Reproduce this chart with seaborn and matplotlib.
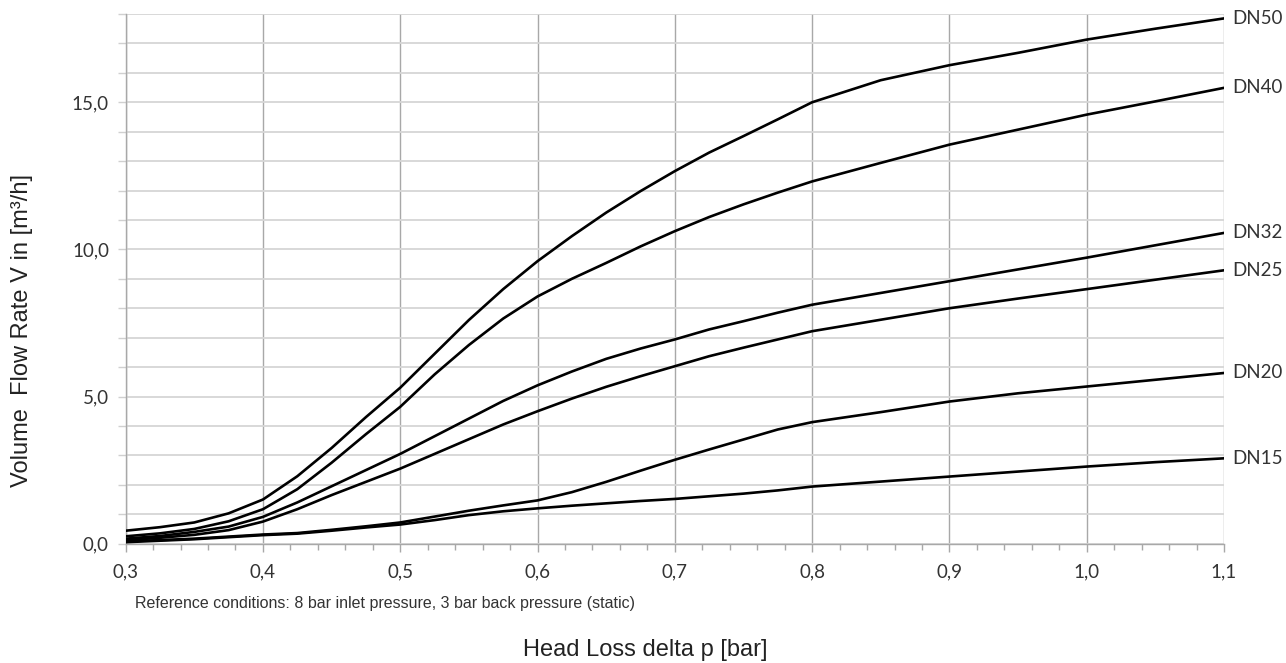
import numpy as np
import pandas as pd
import seaborn as sns
import matplotlib.pyplot as plt
from matplotlib.ticker import MultipleLocator, FuncFormatter

# Daten (Differenzdruck in bar, Volumenstrom in m³/h)
head_loss = [0.30, 0.325, 0.35, 0.375, 0.40, 0.425, 0.45, 0.475, 0.50, 0.525,
             0.55, 0.575, 0.60, 0.625, 0.65, 0.675, 0.70, 0.725, 0.75, 0.775,
             0.80, 0.85, 0.90, 0.95, 1.00, 1.05, 1.10]

dn50 = [0.44, 0.56, 0.72, 1.03, 1.50, 2.29, 3.25, 4.30, 5.30, 6.45,
        7.60, 8.65, 9.60, 10.45, 11.25, 11.98, 12.66, 13.29, 13.85, 14.42,
        15.00, 15.75, 16.26, 16.68, 17.13, 17.50, 17.85]
dn40 = [0.25, 0.35, 0.50, 0.76, 1.17, 1.85, 2.75, 3.72, 4.65, 5.75,
        6.75, 7.65, 8.40, 9.00, 9.54, 10.10, 10.62, 11.10, 11.53, 11.93,
        12.31, 12.94, 13.56, 14.07, 14.58, 15.03, 15.49]
dn32 = [0.17, 0.26, 0.40, 0.58, 0.91, 1.40, 1.95, 2.50, 3.05, 3.65,
        4.25, 4.85, 5.38, 5.85, 6.28, 6.63, 6.94, 7.28, 7.56, 7.85,
        8.12, 8.52, 8.92, 9.32, 9.72, 10.14, 10.56]
dn25 = [0.12, 0.20, 0.30, 0.46, 0.75, 1.17, 1.65, 2.10, 2.55, 3.05,
        3.55, 4.05, 4.50, 4.93, 5.33, 5.69, 6.03, 6.37, 6.66, 6.94,
        7.22, 7.61, 8.00, 8.33, 8.65, 8.97, 9.29]
dn20 = [0.08, 0.12, 0.17, 0.24, 0.31, 0.36, 0.47, 0.59, 0.72, 0.92,
        1.12, 1.30, 1.47, 1.75, 2.10, 2.48, 2.85, 3.20, 3.54, 3.88,
        4.13, 4.47, 4.83, 5.11, 5.34, 5.57, 5.80]
dn15 = [0.05, 0.10, 0.15, 0.22, 0.29, 0.34, 0.44, 0.55, 0.65, 0.80,
        0.97, 1.10, 1.20, 1.29, 1.37, 1.45, 1.52, 1.61, 1.70, 1.81,
        1.94, 2.11, 2.28, 2.45, 2.62, 2.77, 2.90]

series_names = ['DN50', 'DN40', 'DN32', 'DN25', 'DN20', 'DN15']
series_values = [dn50, dn40, dn32, dn25, dn20, dn15]

x_ticks = [0.3, 0.4, 0.5, 0.6, 0.7, 0.8, 0.9, 1.0, 1.1]

# Langformat fuer seaborn
df = pd.DataFrame({
    'dp': np.tile(head_loss, len(series_names)),
    'flow': np.concatenate(series_values),
    'size': np.repeat(series_names, len(head_loss)),
})

sns.set_theme(style='white')
plt.rcParams['font.family'] = ['Lato', 'DejaVu Sans']

fig = plt.figure(figsize=(12.86, 6.63), dpi=100)
ax = fig.add_axes([0.0977, 0.18, 0.8541, 0.7989])

sns.lineplot(data=df, x='dp', y='flow', hue='size', units='size', estimator=None,
             palette=['black'] * len(series_names), linewidth=1.9,
             legend=False, ax=ax, zorder=3)

ax.set_xlim(0.3, 1.1)
ax.set_ylim(0, 18)

# Gitter: senkrecht dunkler, waagerecht hell
ax.set_xticks(x_ticks)
ax.xaxis.set_minor_locator(MultipleLocator(0.02))
ax.yaxis.set_major_locator(MultipleLocator(1))
ax.grid(True, axis='x', which='major', color='#a8a8a8', linewidth=1.0)
ax.grid(True, axis='y', which='major', color='#d6d6d6', linewidth=1.3)
ax.set_axisbelow(True)

ax.xaxis.set_major_formatter(FuncFormatter(lambda v, p: f'{v:.1f}'.replace('.', ',')))
ax.yaxis.set_major_formatter(FuncFormatter(
    lambda v, p: f'{v:.1f}'.replace('.', ',') if round(v) % 5 == 0 else ''))

ax.tick_params(axis='x', which='major', direction='out', length=6, width=1,
               color='#a8a8a8', labelsize=13.5, labelcolor='#333333', pad=8)
ax.tick_params(axis='x', which='minor', direction='out', length=4, width=1,
               color='#a8a8a8')
ax.tick_params(axis='y', which='major', direction='out', length=6, width=1,
               color='#d0d0d0', labelsize=13.5, labelcolor='#333333', pad=6)
ax.tick_params(bottom=True, left=True, which='both')
ax.tick_params(axis='y', which='minor', left=False)

for side in ['top', 'right']:
    ax.spines[side].set_visible(False)
ax.spines['left'].set_color('#a8a8a8')
ax.spines['bottom'].set_color('#a8a8a8')
ax.spines['left'].set_linewidth(1.0)
ax.spines['bottom'].set_linewidth(1.0)

ax.set_xlabel('')
ax.set_ylabel('')

# Beschriftung der Kurven am rechten Rand
for name, vals in zip(series_names, series_values):
    ax.annotate(name, xy=(head_loss[-1], vals[-1]), xytext=(6, 0),
                textcoords='offset points', va='center', ha='left',
                fontsize=13.5, color='#333333', annotation_clip=False)

fig.text(0.017, 0.502, 'Volume  Flow Rate V in [m³/h]', rotation=90,
         ha='center', va='center', fontsize=17, color='#222222',
         family=['Liberation Sans', 'DejaVu Sans'])
fig.text(0.502, 0.0196, 'Head Loss delta p [bar]', ha='center', va='center',
         fontsize=17, color='#222222', family=['Liberation Sans', 'DejaVu Sans'])
fig.text(0.105, 0.089, 'Reference conditions: 8 bar inlet pressure, 3 bar back pressure (static)',
         ha='left', va='center', fontsize=11.5, color='#333333',
         family=['Liberation Sans', 'DejaVu Sans'])

fig.savefig('out.png', dpi=100)
